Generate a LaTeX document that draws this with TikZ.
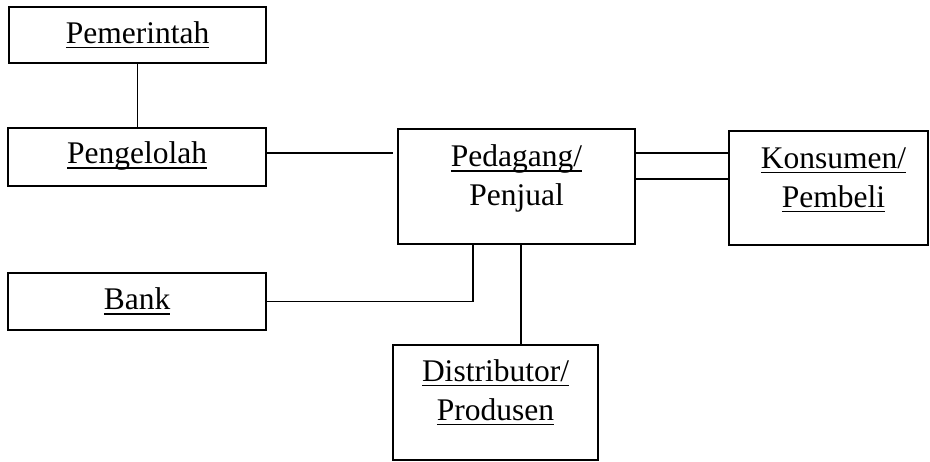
\documentclass[tikz,border=0pt]{standalone}
\usepackage{fontspec}
\setmainfont{Liberation Serif}
\newsavebox{\ulbox}
% word with an underline at a fixed depth below the baseline
\newcommand{\ulword}[1]{\sbox{\ulbox}{#1}\rlap{\rule[-5pt]{\wd\ulbox}{1.7pt}}\usebox{\ulbox}}
\begin{document}
\begin{tikzpicture}[x=1pt,y=-1pt,line width=1.8pt,
  box/.style={draw, inner sep=0pt},
  txt/.style={font=\fontsize{31.5}{39}\selectfont, align=center, inner sep=0pt},
  link/.style={draw, line width=1.8pt}]
\useasboundingbox (0,0) rectangle (930,461);

% boxes
\node[box, minimum width=257, minimum height=56] (pem) at (137.5,35) {};
\node[box, minimum width=258, minimum height=58] (pen) at (137,157) {};
\node[box, minimum width=258, minimum height=57] (bank) at (137,301.5) {};
\node[box, minimum width=237, minimum height=115] (ped) at (516.5,186.5) {};
\node[box, minimum width=199, minimum height=114] (kon) at (828.5,188) {};
\node[box, minimum width=205, minimum height=115] (dis) at (495.5,402.5) {};

% texts
\node[txt] (pem-t) at (pem.center) {\ulword{Pemerintah}};
\node[txt] (pen-t) at ([yshift=1pt]pen.center) {\ulword{Pengelolah}};
\node[txt] (bank-t) at (bank.center) {\ulword{Bank}};
\node[txt] (ped-t) at ([yshift=8pt]ped.center) {\ulword{Pedagang/}\\Penjual};
\node[txt] (kon-t) at ([xshift=5pt,yshift=8pt]kon.center) {\ulword{Konsumen/}\\\ulword{Pembeli}};
\node[txt] (dis-t) at ([yshift=10pt]dis.center) {\ulword{Distributor/}\\\ulword{Produsen}};

% connectors
\coordinate (penEnd) at (393,153);
\draw[link] (pem.south) -- (pem.south |- pen.north);
\draw[link] (pen.east |- penEnd) -- (penEnd);
\draw[link] ([yshift=33.5pt]ped.east) -- ([yshift=33.5pt]ped.east -| kon.west);
\draw[link] ([yshift=7.5pt]ped.east) -- ([yshift=7.5pt]ped.east -| kon.west);
\draw[link] ([xshift=-43.5pt]ped.south) |- (bank.east);
\draw[link] ([xshift=4.5pt]ped.south) -- ([xshift=4.5pt]ped.south |- dis.north);
\end{tikzpicture}
\end{document}
